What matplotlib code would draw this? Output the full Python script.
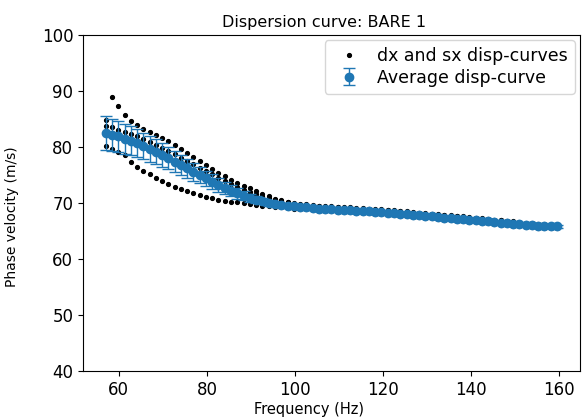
import matplotlib
matplotlib.use('Agg')
import matplotlib.pyplot as plt

# frequenze (Hz)
freq = [57.0, 58.4, 59.8, 61.3, 62.7, 64.1, 65.5, 67.0, 68.4, 69.8,
        71.2, 72.7, 74.1, 75.5, 76.9, 78.4, 79.8, 81.2, 82.6, 84.0,
        85.5, 86.9, 88.3, 89.7, 91.2, 92.6, 94.0, 95.4, 96.9, 98.3,
        99.7, 101.1, 102.5, 104.0, 105.4, 106.8, 108.2, 109.7, 111.1, 112.5,
        113.9, 115.4, 116.8, 118.2, 119.6, 121.1, 122.5, 123.9, 125.3, 126.7,
        128.2, 129.6, 131.0, 132.4, 133.9, 135.3, 136.7, 138.1, 139.6, 141.0,
        142.4, 143.8, 145.2, 146.7, 148.1, 149.5, 150.9, 152.4, 153.8, 155.2,
        156.6, 158.1, 159.5]

# curva media e deviazione
v_mean = [82.5, 82.2, 81.9, 81.5, 81.1, 80.7, 80.2, 79.7, 79.2, 78.6,
          78.0, 77.4, 76.8, 76.2, 75.6, 75.0, 74.4, 73.8, 73.2, 72.7,
          72.2, 71.7, 71.3, 70.9, 70.6, 70.3, 70.0, 69.8, 69.6, 69.5,
          69.4, 69.3, 69.2, 69.1, 69.0, 68.95, 68.9, 68.8, 68.75, 68.7,
          68.6, 68.55, 68.5, 68.4, 68.35, 68.3, 68.2, 68.1, 68.0, 67.9,
          67.8, 67.7, 67.6, 67.5, 67.4, 67.3, 67.2, 67.1, 67.0, 66.9,
          66.8, 66.7, 66.6, 66.5, 66.4, 66.3, 66.2, 66.1, 66.0, 65.95,
          65.9, 65.85, 65.8]
v_std = [3.0, 2.9, 2.8, 2.7, 2.6, 2.5, 2.4, 2.3, 2.2, 2.1,
         2.0, 1.9, 1.8, 1.7, 1.6, 1.5, 1.4, 1.3, 1.2, 1.1,
         1.0, 0.9, 0.8, 0.7, 0.6, 0.55, 0.5, 0.45, 0.4, 0.4,
         0.35, 0.35, 0.35, 0.3, 0.3, 0.3, 0.3, 0.3, 0.3, 0.3,
         0.3, 0.3, 0.3, 0.3, 0.3, 0.3, 0.3, 0.3, 0.3, 0.3,
         0.3, 0.3, 0.3, 0.3, 0.3, 0.3, 0.3, 0.3, 0.3, 0.3,
         0.25, 0.25, 0.25, 0.25, 0.25, 0.25, 0.25, 0.2, 0.2, 0.2,
         0.2, 0.2, 0.2]

# curve dx e sx
v_dx1 = [84.8, 89.0, 87.3, 85.8, 84.7, 83.9, 83.3, 82.7, 82.1, 81.6,
         81.0, 80.3, 79.6, 78.9, 78.2, 77.5, 76.8, 76.1, 75.4, 74.8,
         74.2, 73.6, 73.1, 72.6, 72.1, 71.6, 71.2, 70.8, 70.5, 70.25,
         70.05, 69.9, 69.75, 69.6, 69.5, 69.45, 69.4, 69.3, 69.25, 69.2,
         69.1, 69.05, 69.0, 68.9, 68.85, 68.8, 68.7, 68.6, 68.5, 68.4,
         68.3, 68.2, 68.1, 68.0, 67.9, 67.8, 67.7, 67.6, 67.5, 67.4,
         67.3, 67.2, 67.05, 66.9, 66.75, 66.6, 66.45, 66.3, 66.15, 66.05,
         65.95, 65.9, 65.85]
v_dx2 = [83.8, 83.5, 83.1, 82.7, 82.3, 81.9, 81.4, 80.9, 80.4, 79.9,
         79.3, 78.7, 78.1, 77.5, 76.9, 76.3, 75.7, 75.1, 74.5, 73.9,
         73.4, 72.9, 72.4, 72.0, 71.6, 71.2, 70.9, 70.6, 70.3, 70.1,
         69.9, 69.7, 69.6, 69.5, 69.4, 69.35, 69.3, 69.2, 69.15, 69.1,
         69.0, 68.95, 68.9, 68.8, 68.75, 68.7, 68.6, 68.5, 68.4, 68.3,
         68.2, 68.1, 68.0, 67.9, 67.8, 67.7, 67.6, 67.5, 67.4, 67.3,
         67.2, 67.1, 67.0, 66.9, 66.8, 66.7, 66.6, 66.5, 66.4, 66.3,
         66.2, 66.1, 66.0]
v_sx = [80.2, 79.7, 79.2, 78.5, 77.4, 76.5, 75.8, 75.1, 74.5, 73.9,
        73.4, 72.9, 72.5, 72.1, 71.8, 71.5, 71.1, 70.85, 70.6, 70.4,
        70.25, 70.1, 70.0, 69.85, 69.7, 69.55, 69.4, 69.3, 69.2, 69.1,
        69.0, 68.95, 68.85, 68.75, 68.65, 68.6, 68.55, 68.45, 68.4, 68.35,
        68.25, 68.2, 68.15, 68.05, 68.0, 67.95, 67.85, 67.75, 67.65, 67.55,
        67.45, 67.35, 67.25, 67.15, 67.05, 66.95, 66.85, 66.75, 66.65, 66.55,
        66.45, 66.35, 66.25, 66.15, 66.05, 65.95, 65.85, 65.75, 65.65, 65.6,
        65.55, 65.5, 65.45]

fig = plt.figure(figsize=(5.85, 4.19), dpi=100)
ax = fig.add_axes([0.142, 0.115, 0.849, 0.801])

ax.plot(freq, v_dx1, 'k.', ms=5.5, label='dx and sx disp-curves')
ax.plot(freq, v_dx2, 'k.', ms=5.5)
ax.plot(freq, v_sx, 'k.', ms=5.5)
ax.errorbar(freq, v_mean, yerr=v_std, fmt='o', ms=6, capsize=4,
            color='tab:blue', elinewidth=1, label='Average disp-curve')

ax.set_ylim(40, 100)
ax.set_title('Dispersion curve: BARE 1', fontsize=11.5, x=0.485)
ax.set_xlabel('Frequency (Hz)', fontsize=10.5)
ax.xaxis.set_label_coords(0.455, -0.092)
ax.set_ylabel('Phase velocity (m/s)', fontsize=10)
ax.yaxis.set_label_coords(-0.13, 0.46)
ax.tick_params(labelsize=12)
ax.legend(loc='upper right', fontsize=12.5, labelspacing=0.2,
          handletextpad=0.6, borderaxespad=0.3)

fig.savefig('out.png', dpi=100)
